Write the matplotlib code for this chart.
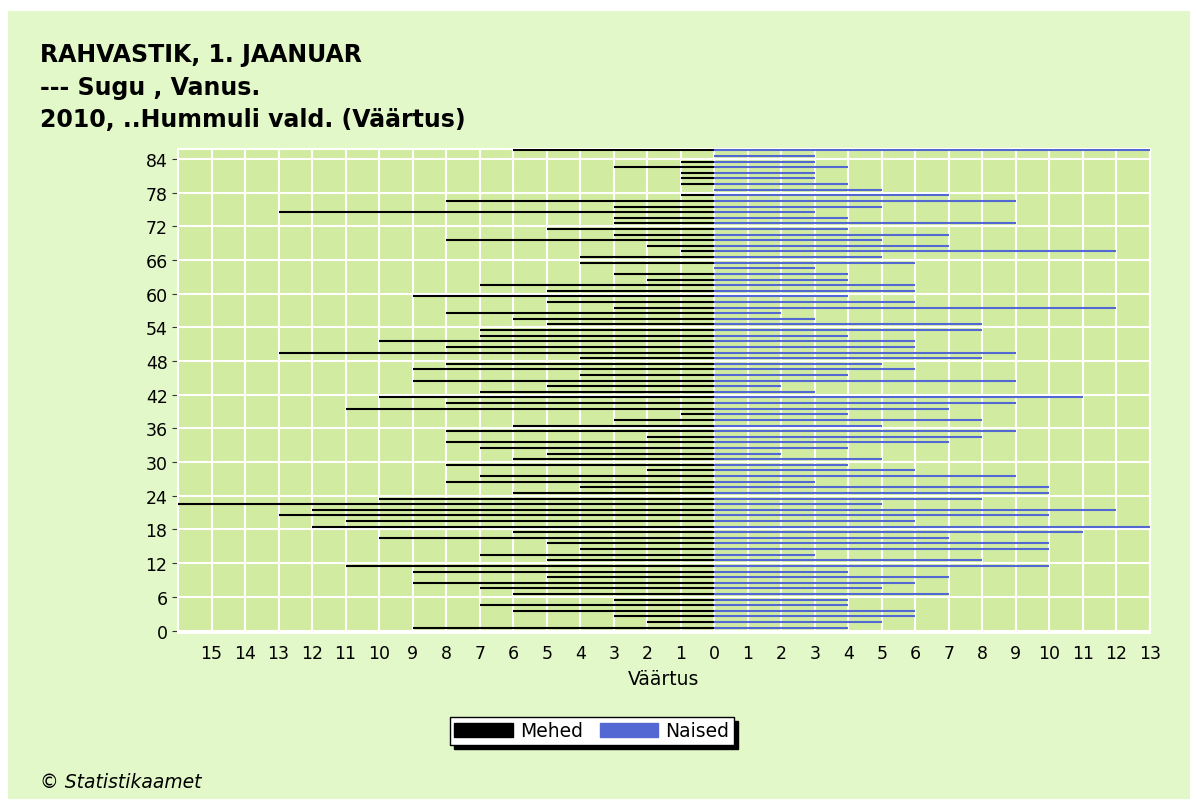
import matplotlib.pyplot as plt
from matplotlib.patches import Rectangle, Patch
import numpy as np

# ── Data: population by age, Hummuli vald, 1 Jan 2010 ──
ages = list(range(86))
mehed = [9, 2, 3, 6, 7, 3, 6, 7, 9, 5,
         9, 11, 5, 7, 4, 5, 10, 6, 12, 11,
         13, 12, 16, 10, 6, 4, 8, 7, 2, 8,
         6, 5, 7, 8, 2, 8, 6, 3, 1, 11,
         8, 10, 7, 5, 9, 4, 9, 8, 4, 13,
         8, 10, 7, 7, 5, 6, 8, 3, 5, 9,
         5, 7, 2, 3, 0, 4, 4, 1, 2, 8,
         3, 5, 3, 3, 13, 3, 8, 1, 0, 1,
         1, 1, 3, 1, 0, 6]
naised = [4, 5, 6, 6, 4, 4, 7, 5, 6, 7,
          4, 10, 8, 3, 10, 10, 7, 11, 13, 6,
          10, 12, 5, 8, 10, 10, 3, 9, 6, 4,
          5, 2, 4, 7, 8, 9, 5, 8, 4, 7,
          9, 11, 3, 2, 9, 4, 6, 5, 8, 9,
          6, 6, 4, 8, 8, 3, 2, 12, 6, 4,
          6, 6, 4, 4, 3, 6, 5, 12, 7, 5,
          7, 4, 9, 4, 3, 5, 9, 7, 5, 4,
          3, 3, 4, 3, 3, 13]
x_ticks = list(range(-15, 14))
y_ticks = list(range(0, 85, 6))
title_lines = ["RAHVASTIK, 1. JAANUAR", "--- Sugu , Vanus.",
               "2010, ..Hummuli vald. (Väärtus)"]

plt.rcParams['font.family'] = ['DejaVu Sans']

W, H = 1197, 803
fig = plt.figure(figsize=(W / 100, H / 100), dpi=100)
fig.patch.set_facecolor('white')
fig.add_artist(Rectangle((8 / W, 3 / H), 1182 / W, 788 / H,
                         transform=fig.transFigure, facecolor='#e3f8c8',
                         edgecolor='none', zorder=0))

ax = fig.add_axes([178 / W, 1 - 633.5 / H, 972 / W, 483.5 / H])
ax.set_facecolor('#d1eca0')

# one thin horizontal line per age: men to the left, women to the right
y = np.array(ages) + 0.5
ax.hlines(y, -np.array(mehed), 0, color='black', linewidth=1.5, zorder=3)
ax.hlines(y, 0, naised, color='#5468d4', linewidth=1.5, zorder=3)

ax.set_xlim(-16, 13)
ax.set_ylim(-0.35, 85.75)
ax.set_xticks(x_ticks)
ax.set_xticklabels([str(abs(v)) for v in x_ticks])
ax.set_yticks(y_ticks)
ax.set_xticks(range(-16, 14), minor=True)
ax.grid(True, which='both', axis='x', color='white', linewidth=1.5, zorder=1)
ax.grid(True, which='major', axis='y', color='white', linewidth=1.5, zorder=1)
ax.tick_params(axis='both', labelsize=12.5, colors='#333333', length=4,
               labelcolor='black')
ax.tick_params(axis='x', which='minor', length=0)
ax.tick_params(axis='x', length=0, pad=8)
for s in ax.spines.values():
    s.set_color('white')
    s.set_linewidth(1.5)
ax.set_xlabel('Väärtus', fontsize=13.5, labelpad=5)

for i, line in enumerate(title_lines):
    fig.text(40 / W, 1 - (55 + i * 32.5) / H, line, fontsize=17,
             fontweight='bold', va='center', ha='left')

handles = [Patch(facecolor='black', edgecolor='black', label='Mehed'),
           Patch(facecolor='#5468d4', edgecolor='#5468d4', label='Naised')]
leg = fig.legend(handles=handles, loc='center', ncol=2,
                 bbox_to_anchor=(592 / W, 1 - 732 / H), fontsize=13.5,
                 frameon=True, fancybox=False, handlelength=3.1,
                 handleheight=0.8, handletextpad=0.4, columnspacing=0.9,
                 borderpad=0.25,
                 shadow={'color': 'black', 'alpha': 1.0, 'ox': 3, 'oy': -3})
leg.get_frame().set_edgecolor('black')
leg.get_frame().set_linewidth(1.0)

fig.text(40 / W, 1 - 783 / H, '© Statistikaamet', fontsize=13.5,
         style='italic', va='center', ha='left')

plt.savefig('out.png', dpi=100)
